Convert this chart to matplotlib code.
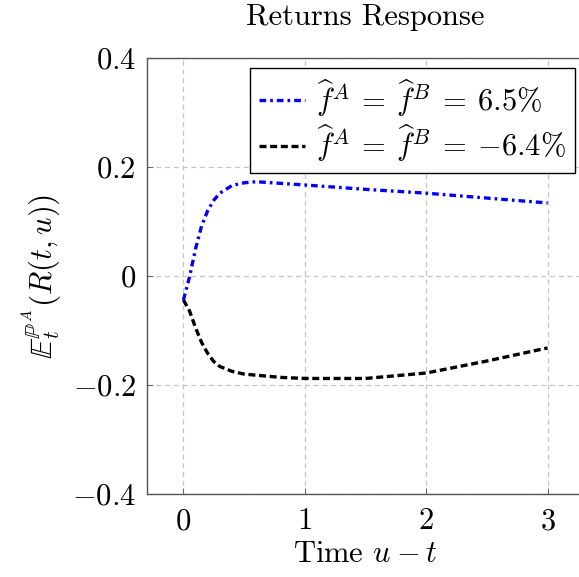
import matplotlib
matplotlib.use("Agg")
import matplotlib.pyplot as plt

plt.rcParams['mathtext.fontset'] = 'cm'
plt.rcParams['font.family'] = 'serif'
plt.rcParams['font.serif'] = ['cmr10', 'DejaVu Serif']
plt.rcParams['axes.unicode_minus'] = False

# horizon u - t
t = [0, 0.05, 0.1, 0.15, 0.2, 0.25, 0.3, 0.4, 0.5, 0.6, 0.8, 1.0, 1.5, 2.0, 2.5, 3.0]
# expected returns, positive forecast
r_pos = [-0.044, -0.002, 0.05, 0.092, 0.12, 0.139, 0.152, 0.166, 0.171, 0.173,
         0.170, 0.167, 0.159, 0.152, 0.143, 0.134]
# expected returns, negative forecast
r_neg = [-0.044, -0.064, -0.095, -0.122, -0.142, -0.157, -0.166, -0.175, -0.180,
         -0.182, -0.186, -0.188, -0.188, -0.178, -0.156, -0.132]

xticks = [0, 1, 2, 3]
yticks = [-0.4, -0.2, 0, 0.2, 0.4]
ytick_labels = [r'$-0.4$', r'$-0.2$', r'$0$', r'$0.2$', r'$0.4$']

fs = 22

fig = plt.figure(figsize=(5.79, 5.77), dpi=100)
ax = fig.add_axes([147 / 579, 83 / 577, 437 / 579, 436 / 577])

ax.plot(t, r_pos, color='blue', lw=2.4, dashes=(2.0, 1.2, 0.8, 1.2),
        label=r'$\widehat{f}^A \:=\: \widehat{f}^B \:=\: 6.5\%$')
ax.plot(t, r_neg, color='black', lw=2.4, dashes=(2.1, 1.1),
        label=r'$\widehat{f}^A \:=\: \widehat{f}^B \:=\: -6.4\%$')

ax.set_xlim(-0.3, 3.3)
ax.set_ylim(-0.4, 0.4)
ax.set_xticks(xticks)
ax.set_xticklabels([f'${v}$' for v in xticks])
ax.set_yticks(yticks)
ax.set_yticklabels(ytick_labels)
ax.tick_params(direction='in', length=4, width=0.6, color='#555555',
               labelsize=fs)
ax.tick_params(axis='x', pad=10)
ax.tick_params(axis='y', pad=8)
ax.grid(True, ls=(0, (4, 3)), color='#c4c4c4', lw=0.9)
ax.set_axisbelow(True)
for s in ax.spines.values():
    s.set_color('#555555')
    s.set_linewidth(1.0)

ax.set_title('Returns Response', fontsize=fs, pad=24)
ax.set_xlabel(r'Time $u \:-\: t$', fontsize=fs, labelpad=4)
ax.set_ylabel(r'$\mathbb{E}_t^{\mathbb{P}^A}\left(R(t,u)\right)$', fontsize=fs, labelpad=6)

leg = ax.legend(loc='upper right', bbox_to_anchor=(428 / 437, 1 - 9.7 / 436),
                fontsize=fs, fancybox=False, edgecolor='black', framealpha=1,
                handlelength=1.5, borderpad=0.3, labelspacing=0.12,
                handletextpad=0.35, borderaxespad=0)
leg.get_frame().set_linewidth(1.0)

fig.savefig('out.png', dpi=100)
